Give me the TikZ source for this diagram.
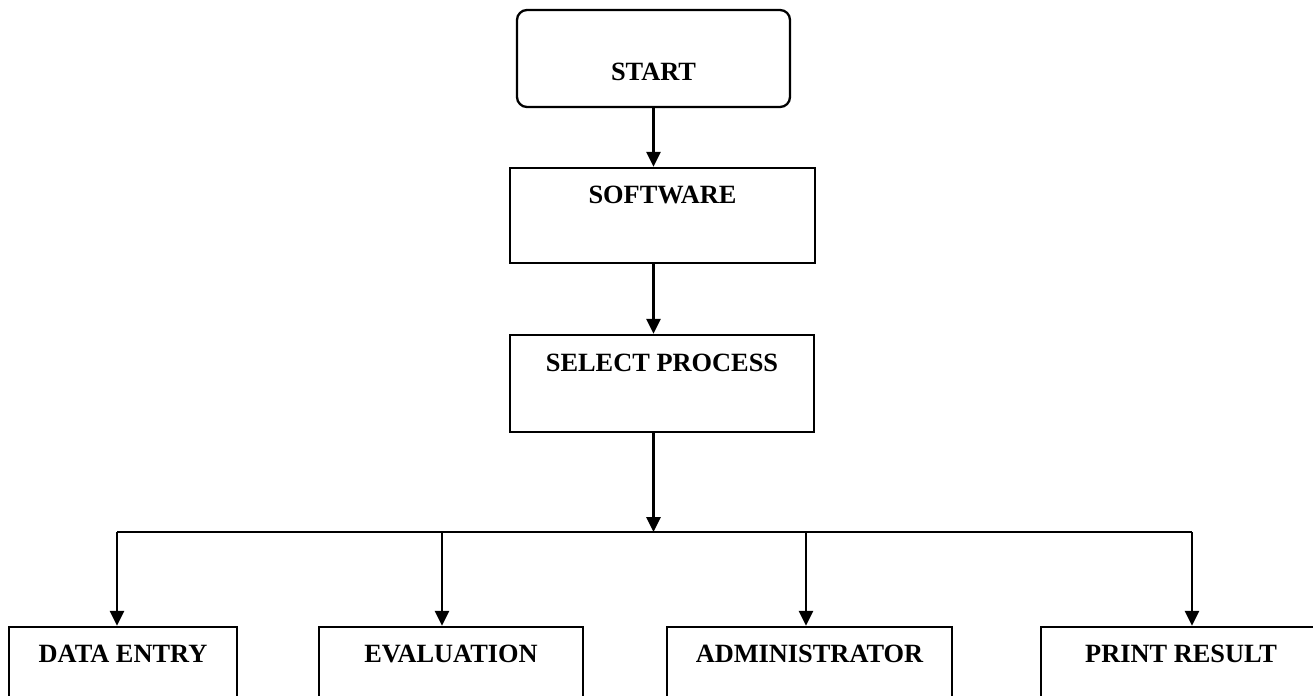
\documentclass[tikz,border=0pt]{standalone}
\usepackage{fontspec}
\setmainfont{Liberation Serif}
\usepackage{tikz}
\usetikzlibrary{arrows.meta,positioning}

\begin{document}
\begin{tikzpicture}[>={Triangle[width=2.8mm,length=3mm]}, font=\fontsize{15}{18}\selectfont\bfseries]
\tikzstyle{startbox}=[draw, line width=1.3pt, rounded corners=0.2cm, text height=0.89cm, text depth=0cm, inner sep=0pt]
\tikzstyle{procbox}=[draw, line width=1.3pt, text height=0.35cm, text depth=0.82cm, inner sep=0pt]
\tikzstyle{flow}=[->, line width=1.5pt]
\useasboundingbox (0,0) rectangle (26.26,13.9);

\node[startbox, minimum width=5.46cm, minimum height=1.94cm] (start) at (13.07,12.73) {START};
\node[procbox, minimum width=6.10cm, minimum height=1.90cm] (soft) at (13.25,9.59) {SOFTWARE};
\node[procbox, minimum width=6.08cm, minimum height=1.94cm] (sel) at (13.24,6.23) {SELECT PROCESS};
\draw[flow] (start.south) -- (start.south |- soft.north);
\draw[flow] (start.south |- soft.south) -- (start.south |- sel.north);

\coordinate (bus) at (13.07,3.26);
\coordinate (b1) at (2.34,3.26);
\coordinate (b2) at (8.84,3.26);
\coordinate (b3) at (16.12,3.26);
\coordinate (b4) at (23.84,3.26);
\draw[flow] (start.south |- sel.south) -- (bus);
\draw[line width=1.5pt] (b1) -- (b4);

\node[procbox, minimum width=4.56cm, minimum height=1.90cm] (entry) at (2.46,0.41) {DATA ENTRY};
\node[procbox, minimum width=5.28cm, minimum height=1.90cm] (eval) at (9.02,0.41) {EVALUATION};
\node[procbox, minimum width=5.70cm, minimum height=1.90cm] (admin) at (16.19,0.41) {ADMINISTRATOR};
\node[procbox, minimum width=5.60cm, minimum height=1.90cm] (print) at (23.62,0.41) {PRINT RESULT};
\draw[flow] (b1) -- (b1 |- entry.north);
\draw[flow] (b2) -- (b2 |- eval.north);
\draw[flow] (b3) -- (b3 |- admin.north);
\draw[flow] (b4) -- (b4 |- print.north);
\end{tikzpicture}
\end{document}
